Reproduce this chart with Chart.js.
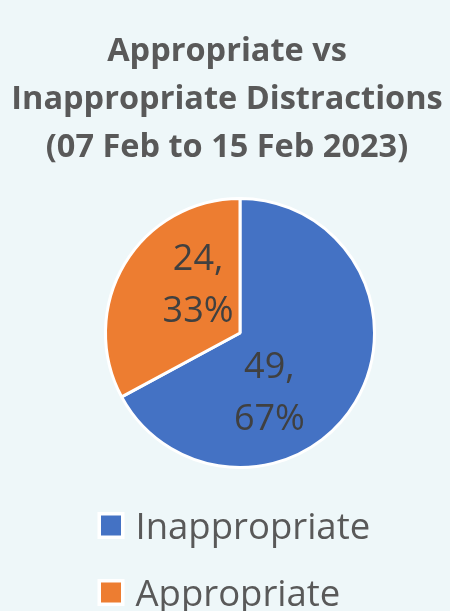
<!DOCTYPE html>
<html>
<head>
<meta charset="utf-8">
<script src="https://cdn.jsdelivr.net/npm/chart.js@4.4.1/dist/chart.umd.min.js"></script>
<style>
  html, body { margin: 0; padding: 0; background: #EEF7F9; overflow: hidden; }
  #wrap { position: relative; width: 450px; height: 611px; }
</style>
</head>
<body>
<div id="wrap"><canvas id="chart" width="450" height="611"></canvas></div>
<script>
// ---- data ----
const categories = ['Inappropriate', 'Appropriate'];
const counts = [49, 24];
const percentLabels = ['67%', '33%'];
const titleLines = ['Appropriate vs', 'Inappropriate Distractions', '(07 Feb to 15 Feb 2023)'];

// ---- style ----
const sliceColors = ['#4472C4', '#ED7D31'];
const bgColor = '#EEF7F9';
const labelPlacement = [ { t: 0.633, r: 0.48 }, { t: 0.662, r: 0.485 } ];

// Spacer box so the pie sits slightly right of the title's centre
const spacerPlugin = {
  id: 'spacer',
  beforeInit(chart) {
    const box = {
      position: 'left', weight: 0, fullSize: false, options: { stack: undefined, stackWeight: 1 },
      width: 0, height: 0, left: 0, top: 0, right: 0, bottom: 0,
      update(maxWidth, maxHeight) { this.width = 26; this.height = maxHeight; return {}; },
      isHorizontal() { return false; },
      draw() {}
    };
    Chart.layouts.addBox(chart, box);
  }
};

const dataLabelPlugin = {
  id: 'sliceLabels',
  afterDatasetsDraw(chart) {
    const ctx = chart.ctx;
    const meta = chart.getDatasetMeta(0);
    ctx.save();
    ctx.font = '36px "Open Sans"';
    ctx.fillStyle = '#404040';
    ctx.textAlign = 'center';
    ctx.textBaseline = 'alphabetic';
    meta.data.forEach((arc, i) => {
      const p = arc.getProps(['x', 'y', 'startAngle', 'endAngle', 'outerRadius'], true);
      const pl = labelPlacement[i];
      const a = p.startAngle + (p.endAngle - p.startAngle) * pl.t;
      const cx = p.x + Math.cos(a) * p.outerRadius * pl.r;
      const cy = p.y + Math.sin(a) * p.outerRadius * pl.r;
      const l1 = counts[i] + ',';
      const l2 = percentLabels[i];
      ctx.fillText(l1, cx, cy - 13);
      ctx.fillText(l2, cx, cy + 39);
    });
    ctx.restore();
  }
};

const legendPlugin = {
  id: 'vertLegend',
  afterDraw(chart) {
    const ctx = chart.ctx;
    const ds = chart.data.datasets[0];
    const top0 = chart.chartArea.bottom + 43;
    ctx.save();
    ctx.font = '36.5px "Open Sans"';
    ctx.textAlign = 'left';
    ctx.textBaseline = 'alphabetic';
    chart.data.labels.forEach((lab, i) => {
      const y = top0 + i * 67;
      ctx.fillStyle = '#FFFFFF';
      ctx.fillRect(97.5, y, 27, 27);
      ctx.fillStyle = ds.backgroundColor[i];
      ctx.fillRect(101, y + 3.5, 20, 20);
      ctx.fillStyle = '#595959';
      ctx.fillText(lab, 135.5, y + 27);
    });
    ctx.restore();
  }
};

const bgPlugin = {
  id: 'bg',
  beforeDraw(chart) {
    const ctx = chart.ctx;
    ctx.save();
    ctx.fillStyle = bgColor;
    ctx.fillRect(0, 0, chart.width, chart.height);
    ctx.restore();
  }
};

new Chart(document.getElementById('chart'), {
  type: 'pie',
  data: {
    labels: categories,
    datasets: [{
      data: counts,
      backgroundColor: sliceColors,
      borderColor: '#FFFFFF',
      borderWidth: 3
    }]
  },
  options: {
    responsive: false,
    animation: false,
    layout: { padding: { top: 0, left: 4, right: 0, bottom: 142 } },
    plugins: {
      legend: { display: false },
      tooltip: { enabled: false },
      title: {
        display: true,
        text: titleLines,
        color: '#595959',
        font: { family: '"Open Sans"', size: 32.5, weight: 'bold', lineHeight: 48 / 32.5 },
        padding: { top: 28, bottom: 25 }
      }
    }
  },
  plugins: [bgPlugin, spacerPlugin, dataLabelPlugin, legendPlugin]
});
</script>
</body>
</html>
